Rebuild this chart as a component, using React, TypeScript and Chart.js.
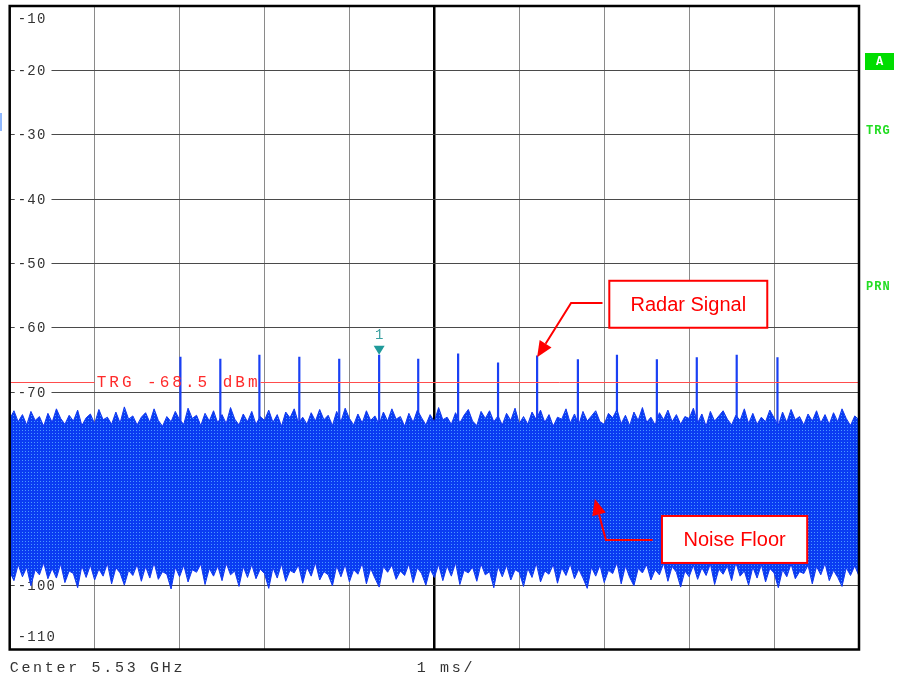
import React, { useEffect, useRef } from "react";
import { Chart, registerables } from "chart.js";

Chart.register(...registerables);

// ---- data -------------------------------------------------------------
const timeMinMs = 0;
const timeMaxMs = 10;
const levelTicks = [-10, -20, -30, -40, -50, -60, -70, -80, -90, -100, -110];
const noiseStepMs = 0.05;

const noiseUpper = [
  -74.2, -72.9, -74.6, -73.5, -75.1, -73.0, -74.4, -73.8, -75.3, -73.3,
  -74.7, -72.6, -74.1, -75.0, -73.6, -74.5, -72.8, -75.2, -74.0, -73.4,
  -74.9, -72.7, -74.3, -73.9, -75.0, -73.1, -74.8, -72.3, -74.2, -73.7,
  -75.1, -73.9, -73.2, -74.7, -72.6, -74.4, -75.3, -73.8, -74.6, -73.0,
  -74.3, -75.0, -72.5, -74.1, -73.6, -75.2, -73.3, -74.5, -72.9, -74.8,
  -73.5, -74.9, -72.4, -74.2, -75.1, -73.4, -74.6, -73.0, -75.0, -73.8,
  -74.4, -72.8, -74.7, -73.5, -75.3, -73.1, -74.0, -72.6, -74.8, -73.9,
  -75.0, -73.2, -74.5, -72.7, -74.3, -73.6, -75.2, -73.0, -74.6, -72.5,
  -74.1, -75.1, -73.4, -74.8, -72.9, -74.4, -73.7, -75.0, -73.1, -74.5,
  -72.6, -74.2, -73.8, -75.3, -73.3, -74.7, -72.8, -74.0, -75.1, -73.5,
  -74.6, -72.4, -74.3, -73.9, -75.0, -73.2, -74.8, -73.6, -72.7, -74.5,
  -75.2, -73.0, -74.1, -72.9, -74.6, -73.7, -75.1, -73.3, -74.4, -72.5,
  -74.9, -73.8, -75.0, -73.1, -74.3, -72.8, -74.7, -73.5, -75.3, -73.9,
  -74.2, -72.6, -74.8, -73.4, -75.1, -73.0, -74.5, -73.7, -72.9, -74.6,
  -75.0, -73.3, -74.0, -72.7, -74.9, -73.6, -75.2, -73.1, -74.4, -72.4,
  -74.7, -73.9, -75.1, -73.2, -74.3, -72.8, -74.6, -73.5, -75.0, -73.8,
  -74.1, -72.5, -74.8, -73.4, -75.3, -73.0, -74.5, -73.7, -72.9, -74.2,
  -75.1, -73.6, -74.4, -72.6, -74.9, -73.3, -75.0, -73.9, -74.6, -72.8,
  -74.0, -75.2, -73.1, -74.7, -72.7, -74.3, -73.8, -75.1, -73.4, -74.5,
  -72.9, -74.8, -73.5, -75.0, -73.2, -74.6, -72.6, -74.1, -75.2, -73.7,
  -74.3,
];

const noiseLower = [
  -97.9, -99.3, -96.8, -98.7, -97.2, -100.1, -97.6, -98.4, -96.5, -99.0,
  -97.4, -98.9, -96.7, -99.6, -97.8, -98.2, -100.4, -97.0, -98.8, -96.9,
  -99.2, -97.5, -98.6, -96.6, -99.8, -97.3, -98.1, -100.0, -97.7, -98.5,
  -96.8, -99.4, -97.1, -98.9, -96.5, -99.1, -97.9, -98.3, -100.6, -97.2,
  -98.7, -96.9, -99.5, -97.6, -98.0, -96.7, -99.9, -97.4, -98.6, -97.0,
  -99.3, -96.6, -98.4, -97.8, -100.2, -97.1, -98.8, -96.8, -99.0, -97.5,
  -98.2, -100.5, -97.3, -98.9, -96.7, -99.4, -97.7, -98.1, -96.9, -99.7,
  -97.2, -98.6, -96.5, -99.2, -97.9, -98.4, -100.1, -97.0, -98.7, -96.8,
  -99.5, -97.6, -98.3, -96.6, -99.8, -97.4, -98.9, -100.3, -97.1, -98.0,
  -96.9, -99.1, -97.8, -98.5, -96.7, -99.6, -97.3, -98.2, -100.0, -97.5,
  -98.8, -96.8, -99.3, -97.0, -98.6, -96.5, -99.9, -97.7, -98.1, -97.2,
  -99.4, -96.7, -98.4, -97.9, -100.4, -97.1, -98.7, -96.9, -99.2, -97.6,
  -98.0, -100.2, -97.4, -98.8, -96.6, -99.5, -97.8, -98.3, -96.8, -99.7,
  -97.3, -98.5, -96.7, -99.0, -97.5, -98.9, -100.5, -97.2, -98.6, -96.9,
  -99.6, -97.7, -98.2, -96.5, -99.8, -97.0, -98.8, -100.1, -97.4, -98.1,
  -96.8, -99.2, -97.6, -98.4, -96.6, -99.4, -97.1, -98.0, -100.3, -97.8,
  -98.7, -96.9, -99.1, -97.3, -98.5, -96.7, -99.9, -97.5, -98.3, -97.0,
  -99.3, -96.5, -98.6, -97.8, -100.0, -97.2, -98.9, -96.8, -99.5, -97.4,
  -98.1, -100.4, -97.6, -98.7, -96.7, -99.0, -97.9, -98.2, -96.9, -99.8,
  -97.1, -98.4, -96.6, -99.3, -97.7, -98.8, -100.2, -97.3, -98.5, -97.0,
  -98.6,
];

const pulseTimes = [2.01, 2.48, 2.94, 3.41, 3.88, 4.35, 4.81, 5.28, 5.75, 6.21, 6.69, 7.15, 7.62, 8.09, 8.56, 9.04];
const pulsePeaks = [-64.5, -64.8, -64.2, -64.5, -64.8, -64.2, -64.8, -64.0, -65.4, -64.3, -64.9, -64.2, -64.9, -64.6, -64.2, -64.6];
const pulseBase = -86;

const triggerLevel = -68.5;
const triggerLabel = "TRG -68.5 dBm";
const markerTime = 4.35;
const markerLevel = -64.2;
const markerLabel = "1";
const centerLabel = "Center 5.53 GHz";
const spanLabel = "1 ms/";
const radarLabel = "Radar Signal";
const noiseLabel = "Noise Floor";

// ---- plugin -----------------------------------------------------------
const MONO = '"Liberation Mono", "DejaVu Sans Mono", monospace';
const SANS = '"Liberation Sans", Arial, sans-serif';

function arrow(ctx: CanvasRenderingContext2D, pts: number[][], color: string) {
  ctx.save();
  ctx.strokeStyle = color;
  ctx.fillStyle = color;
  ctx.lineWidth = 2;
  const n = pts.length;
  const [tx, ty] = pts[n - 1];
  const [px, py] = pts[n - 2];
  const ang = Math.atan2(ty - py, tx - px);
  const headLen = 16;
  const headW = 7;
  const bx = tx - headLen * Math.cos(ang);
  const by = ty - headLen * Math.sin(ang);
  ctx.beginPath();
  ctx.moveTo(pts[0][0], pts[0][1]);
  for (let i = 1; i < n - 1; i++) ctx.lineTo(pts[i][0], pts[i][1]);
  ctx.lineTo(bx, by);
  ctx.stroke();
  ctx.beginPath();
  ctx.moveTo(tx, ty);
  ctx.lineTo(bx + headW * Math.sin(ang), by - headW * Math.cos(ang));
  ctx.lineTo(bx - headW * Math.sin(ang), by + headW * Math.cos(ang));
  ctx.closePath();
  ctx.fill();
  ctx.restore();
}

function box(ctx: CanvasRenderingContext2D, x1: number, y1: number, x2: number, y2: number, text: string) {
  ctx.save();
  ctx.fillStyle = "#ffffff";
  ctx.fillRect(x1, y1, x2 - x1, y2 - y1);
  ctx.strokeStyle = "#ff0000";
  ctx.lineWidth = 2;
  ctx.strokeRect(x1, y1, x2 - x1, y2 - y1);
  ctx.fillStyle = "#ff0000";
  ctx.font = `20px ${SANS}`;
  ctx.textAlign = "center";
  ctx.textBaseline = "middle";
  ctx.fillText(text, (x1 + x2) / 2, (y1 + y2) / 2 + 1);
  ctx.restore();
}

const overlay = {
  id: "overlay",
  beforeDatasetsDraw(chart: any) {
    const { ctx, chartArea: a, scales } = chart;
    const y = scales.y;
    ctx.save();
    ctx.font = `14px ${MONO}`;
    (ctx as any).letterSpacing = "1.2px";
    ctx.textBaseline = "middle";
    levelTicks.forEach((v) => {
      let py = y.getPixelForValue(v);
      if (v === levelTicks[0]) py += 12;
      if (v === levelTicks[levelTicks.length - 1]) py -= 13;
      const txt = String(v);
      const w = ctx.measureText(txt).width;
      ctx.fillStyle = "#ffffff";
      ctx.fillRect(a.left + 5, py - 6, w + 8, 12);
      ctx.fillStyle = "#333333";
      ctx.fillText(txt, a.left + 8, py + 1);
    });
    ctx.restore();
  },
  afterDatasetsDraw(chart: any) {
    const { ctx, chartArea: a, scales } = chart;
    const x = scales.x;
    const y = scales.y;

    // trigger line
    ctx.save();
    const ty = Math.round(y.getPixelForValue(triggerLevel)) + 0.5;
    ctx.font = `16px ${MONO}`;
    (ctx as any).letterSpacing = "3px";
    const tw = ctx.measureText(triggerLabel).width;
    const tx0 = a.left + 87;
    ctx.strokeStyle = "#ff4d4d";
    ctx.lineWidth = 1;
    ctx.beginPath();
    ctx.moveTo(a.left, ty);
    ctx.lineTo(tx0 - 2, ty);
    ctx.moveTo(tx0 + tw, ty);
    ctx.lineTo(a.right, ty);
    ctx.stroke();
    ctx.fillStyle = "#ff2a2a";
    ctx.textBaseline = "middle";
    ctx.fillText(triggerLabel, tx0, ty);
    ctx.restore();

    // marker
    ctx.save();
    const mx = x.getPixelForValue(markerTime);
    const my = y.getPixelForValue(markerLevel);
    ctx.fillStyle = "#1f9a9a";
    ctx.beginPath();
    ctx.moveTo(mx, my);
    ctx.lineTo(mx - 5.5, my - 9);
    ctx.lineTo(mx + 5.5, my - 9);
    ctx.closePath();
    ctx.fill();
    ctx.fillStyle = "#3aa0a0";
    ctx.font = `14px ${MONO}`;
    ctx.textAlign = "center";
    ctx.textBaseline = "middle";
    ctx.fillText(markerLabel, mx, my - 19);
    ctx.restore();

    // frame
    ctx.save();
    ctx.strokeStyle = "#000000";
    ctx.lineWidth = 2.5;
    ctx.strokeRect(a.left, a.top, a.right - a.left, a.bottom - a.top);
    ctx.restore();

    // annotations
    const rx1 = x.getPixelForValue(7.06), rx2 = x.getPixelForValue(8.92);
    const ry1 = y.getPixelForValue(-52.7), ry2 = y.getPixelForValue(-60.0);
    const rLineY = y.getPixelForValue(-56.15);
    arrow(ctx, [
      [x.getPixelForValue(6.98), rLineY],
      [x.getPixelForValue(6.61), rLineY],
      [x.getPixelForValue(pulseTimes[9]), y.getPixelForValue(pulsePeaks[9] - 0.3)],
    ], "#ff0000");
    box(ctx, rx1, ry1, rx2, ry2, radarLabel);

    const nx1 = x.getPixelForValue(7.68), nx2 = x.getPixelForValue(9.39);
    const ny1 = y.getPixelForValue(-89.25), ny2 = y.getPixelForValue(-96.55);
    const nLineY = y.getPixelForValue(-92.98);
    arrow(ctx, [
      [x.getPixelForValue(7.57), nLineY],
      [x.getPixelForValue(7.02), nLineY],
      [x.getPixelForValue(6.89), y.getPixelForValue(-86.6)],
    ], "#ff0000");
    box(ctx, nx1, ny1, nx2, ny2, noiseLabel);

    // right side status
    ctx.save();
    ctx.fillStyle = "#00dd00";
    ctx.fillRect(a.right + 6, 53, 29, 17);
    ctx.fillStyle = "#ffffff";
    ctx.font = `bold 12px ${MONO}`;
    ctx.textAlign = "center";
    ctx.textBaseline = "middle";
    ctx.fillText("A", a.right + 20.5, 62);
    ctx.fillStyle = "#22dd22";
    ctx.textAlign = "left";
    ctx.font = `bold 12px ${MONO}`;
    (ctx as any).letterSpacing = "1px";
    ctx.fillText("TRG", a.right + 7, 131);
    ctx.fillText("PRN", a.right + 7, 287);
    ctx.restore();

    // tiny cut-off mark on left edge
    ctx.save();
    ctx.fillStyle = "#8fb8ff";
    ctx.fillRect(0, 113, 2, 18);
    ctx.restore();

    // bottom labels
    ctx.save();
    ctx.fillStyle = "#333333";
    ctx.font = `15px ${MONO}`;
    (ctx as any).letterSpacing = "2.7px";
    ctx.textBaseline = "middle";
    ctx.fillText(centerLabel, a.left, 668);
    ctx.fillText(spanLabel, a.left + 407, 668);
    ctx.restore();
  },
};

// ---- component --------------------------------------------------------
export default function App() {
  const ref = useRef<HTMLCanvasElement | null>(null);

  useEffect(() => {
    const canvas = ref.current;
    if (!canvas) return;
    const c2d = canvas.getContext("2d")!;

    const pc = document.createElement("canvas");
    pc.width = 3;
    pc.height = 3;
    const p = pc.getContext("2d")!;
    p.fillStyle = "#0a3cf2";
    p.fillRect(0, 0, 3, 3);
    p.fillStyle = "#4a98ff";
    p.fillRect(1, 1, 1, 1);
    const pattern = c2d.createPattern(pc, "repeat");

    const upperPts = noiseUpper.map((v, i) => ({ x: i * noiseStepMs, y: v }));
    const lowerPts = noiseLower.map((v, i) => ({ x: i * noiseStepMs, y: v }));
    const pulsePts: any[] = [];
    pulseTimes.forEach((t, i) => {
      pulsePts.push({ x: t, y: pulseBase }, { x: t, y: pulsePeaks[i] }, { x: t, y: null });
    });

    const chart = new Chart(canvas, {
      type: "line",
      data: {
        datasets: [
          {
            label: "upper",
            data: upperPts,
            borderColor: "#1238f0",
            borderWidth: 1,
            pointRadius: 0,
            fill: false,
            tension: 0,
          },
          {
            label: "lower",
            data: lowerPts,
            borderColor: "#1238f0",
            borderWidth: 1,
            pointRadius: 0,
            backgroundColor: pattern as any,
            fill: "-1",
            tension: 0,
          },
          {
            label: "pulses",
            data: pulsePts,
            borderColor: "#1a40f4",
            borderWidth: 2.2,
            pointRadius: 0,
            fill: false,
            spanGaps: false,
            tension: 0,
          },
        ],
      },
      options: {
        responsive: false,
        animation: false,
        devicePixelRatio: 1,
        layout: { padding: { left: 9.7, right: 38, top: 6, bottom: 31.5 } },
        plugins: {
          legend: { display: false },
          tooltip: { enabled: false },
        },
        scales: {
          x: {
            type: "linear",
            min: timeMinMs,
            max: timeMaxMs,
            ticks: { display: false, stepSize: 1 },
            border: { display: false },
            grid: {
              drawTicks: false,
              color: (c: any) => (c.tick && c.tick.value === 5 ? "#000000" : "#8a8a8a"),
              lineWidth: (c: any) => (c.tick && c.tick.value === 5 ? 2.5 : 1),
            },
          },
          y: {
            type: "linear",
            min: -110,
            max: -10,
            ticks: { display: false, stepSize: 10 },
            border: { display: false },
            grid: { drawTicks: false, color: "#4a4a4a", lineWidth: 1 },
          },
        },
      },
      plugins: [overlay],
    });
    return () => chart.destroy();
  }, []);

  return (
    <div style={{ position: "fixed", left: 0, top: 0, width: 897, height: 681, background: "#ffffff" }}>
      <canvas ref={ref} width={897} height={681} style={{ display: "block" }} />
    </div>
  );
}
